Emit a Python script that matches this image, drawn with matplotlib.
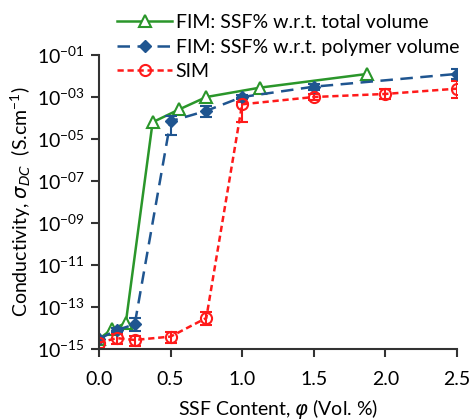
import numpy as np
import matplotlib.pyplot as plt
from matplotlib.lines import Line2D
from matplotlib.ticker import FixedLocator, FuncFormatter

plt.rcParams['font.family'] = ['Lato', 'DejaVu Sans']
plt.rcParams['mathtext.default'] = 'regular'

# FIM, SSF% relative to total volume
x_tot = [0.0, 0.094, 0.1875, 0.375, 0.5625, 0.75, 1.125, 1.875]
y_tot = [3e-15, 9e-15, 1.7e-14, 6.3e-5, 2.6e-4, 1.0e-3, 2.8e-3, 1.26e-2]

# FIM, SSF% relative to polymer volume (errors given in decades: down, up)
x_pol = [0.0, 0.125, 0.25, 0.5, 0.75, 1.0, 1.5, 2.5]
y_pol = [3e-15, 8e-15, 1.5e-14, 7e-5, 2.2e-4, 1.0e-3, 3.1e-3, 1.26e-2]
dn_pol = [0.1, 0.1, 0.3, 0.65, 0.3, 0.1, 0.15, 0.25]
up_pol = [0.1, 0.1, 0.3, 0.25, 0.25, 0.1, 0.15, 0.25]

# SIM
x_sim = [0.0, 0.125, 0.25, 0.5, 0.75, 1.0, 1.5, 2.0, 2.5]
y_sim = [2e-15, 3.3e-15, 2.7e-15, 3.9e-15, 3e-14, 4.5e-4, 1.0e-3, 1.4e-3, 2.5e-3]
dn_sim = [0.25, 0.3, 0.3, 0.3, 0.35, 0.85, 0.15, 0.25, 0.45]
up_sim = [0.15, 0.2, 0.2, 0.2, 0.3, 0.1, 0.15, 0.25, 0.35]

labels = ['FIM: SSF% w.r.t. total volume',
          'FIM: SSF% w.r.t. polymer volume',
          'SIM']

green = '#2a962a'
blue = '#1f5590'
red = '#ff1a1a'


def log_err(y, dn, up):
    y = np.array(y)
    return [y - y * 10 ** -np.array(dn), y * 10 ** np.array(up) - y]


fig = plt.figure(figsize=(4.71, 4.2), dpi=100)
ax = fig.add_axes([0.21, 0.169, 0.76, 0.70])

tot_style = dict(color=green, ls='-', lw=1.8, marker='^', ms=8,
                 mfc='white', mec=green, mew=1.5)
pol_style = dict(color=blue, ls=(0, (5, 3)), lw=1.8, marker='D', ms=6,
                 mfc=blue, mec=blue)
sim_style = dict(color=red, ls=(0, (2.5, 1.5)), lw=1.8, marker='o', ms=8,
                 mfc='none', mec=red, mew=1.5)
bar_style = dict(capsize=4, elinewidth=1.5, capthick=1.5)

ax.plot(x_tot, y_tot, **tot_style)
ax.errorbar(x_pol, y_pol, yerr=log_err(y_pol, dn_pol, up_pol),
            **pol_style, **bar_style)
ax.errorbar(x_sim, y_sim, yerr=log_err(y_sim, dn_sim, up_sim),
            **sim_style, **bar_style)

ax.set_yscale('log')
ax.set_xlim(0, 2.5)
ax.set_ylim(1e-15, 1e-1)
ax.yaxis.set_major_locator(FixedLocator([10.0 ** e for e in range(-15, 0, 2)]))
ax.yaxis.set_minor_locator(FixedLocator([]))
ax.yaxis.set_major_formatter(FuncFormatter(
    lambda v, p: '$10^{-%02d}$' % round(-np.log10(v))))
ax.set_xticks([0.0, 0.5, 1.0, 1.5, 2.0, 2.5])
ax.xaxis.set_major_formatter(FuncFormatter(lambda v, p: '%.1f' % v))

for s in ['top', 'right']:
    ax.spines[s].set_visible(False)
for s in ['left', 'bottom']:
    ax.spines[s].set_linewidth(1.5)
    ax.spines[s].set_color('#333333')
ax.tick_params(axis='both', direction='out', length=6, width=1.5,
               color='#333333', labelsize=14, pad=4)
ax.tick_params(axis='x', pad=10)

ax.set_xlabel('SSF Content, $\\mathit{\\varphi}$ (Vol. %)', fontsize=14,
              labelpad=6)
ax.set_ylabel('Conductivity, $\\mathit{\\sigma_{DC}}$  (S.cm$^{-1}$)',
              fontsize=14, labelpad=3)

handles = [Line2D([], [], **tot_style), Line2D([], [], **pol_style),
           Line2D([], [], **sim_style)]
ax.legend(handles, labels, loc='upper left', bbox_to_anchor=(0.03, 1.165),
          frameon=False, fontsize=14, handlelength=2.8, handletextpad=0.2,
          labelspacing=0.38, borderaxespad=0)

fig.savefig('out.png', dpi=100)
